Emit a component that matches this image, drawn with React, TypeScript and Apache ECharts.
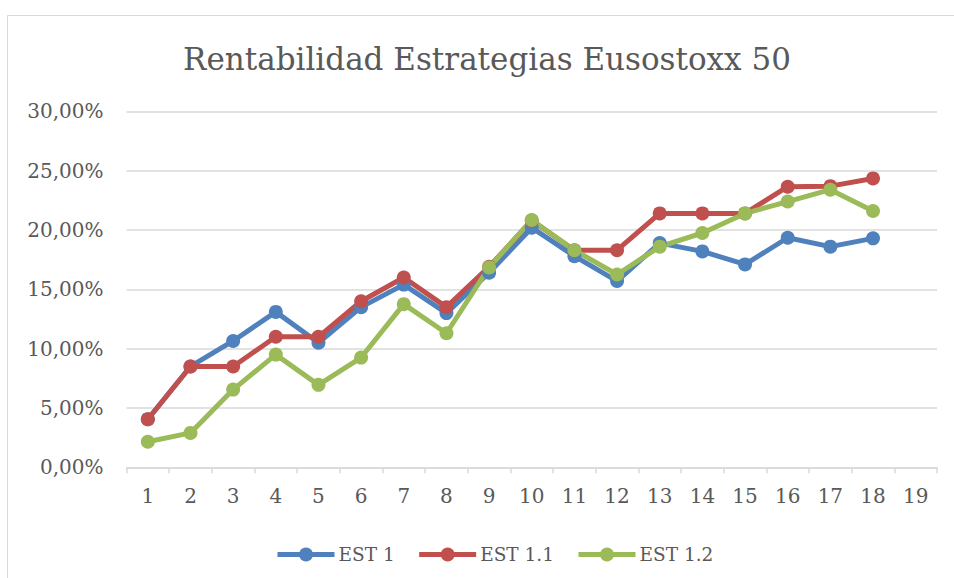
import React, { useEffect, useRef } from "react";
import * as echarts from "echarts";

const categories = ["1","2","3","4","5","6","7","8","9","10","11","12","13","14","15","16","17","18","19"];
const est1 = [4.05, 8.5, 10.65, 13.1, 10.5, 13.5, 15.4, 13.0, 16.4, 20.2, 17.8, 15.7, 18.9, 18.2, 17.1, 19.35, 18.6, 19.3];
const est11 = [4.05, 8.5, 8.5, 11.0, 11.0, 14.0, 16.0, 13.5, 16.9, 20.8, 18.3, 18.3, 21.4, 21.4, 21.4, 23.65, 23.7, 24.35];
const est12 = [2.15, 2.9, 6.55, 9.5, 6.95, 9.25, 13.75, 11.3, 16.85, 20.85, 18.3, 16.25, 18.6, 19.75, 21.4, 22.4, 23.4, 21.6];
const seriesNames = ["EST 1", "EST 1.1", "EST 1.2"];
const colors = ["#4F81BD", "#C0504D", "#9BBB59"];

const FONT = "'DejaVu Serif', 'Liberation Serif', serif";

export default function App() {
  const ref = useRef<HTMLDivElement>(null);
  useEffect(() => {
    if (!ref.current) return;
    const chart = echarts.init(ref.current, null, { renderer: "svg" });
    const data = [est1, est11, est12];
    chart.setOption({
      animation: false,
      backgroundColor: "#ffffff",
      title: {
        text: "Rentabilidad Estrategias Eusostoxx 50",
        left: 482,
        top: 38,
        textAlign: "center",
        textStyle: { fontFamily: FONT, fontSize: 31, fontWeight: "normal", color: "#595959" },
      },
      graphic: [
        {
          type: "rect",
          shape: { x: 7.5, y: 15.5, width: 1000, height: 700 },
          style: { fill: "none", stroke: "#d9d9d9", lineWidth: 1 },
          silent: true,
          z: -10,
        },
      ],
      legend: {
        top: 540,
        left: 270,
        itemWidth: 57,
        itemHeight: 17.5,
        itemGap: 22,
        lineStyle: { width: 5 },
        textStyle: { fontFamily: FONT, fontSize: 18.5, color: "#595959", padding: [0, 0, 0, -1] },
        data: seriesNames,
      },
      grid: { left: 126.5, right: 17, top: 111.4, bottom: 110.7, containLabel: false },
      xAxis: {
        type: "category",
        data: categories,
        boundaryGap: true,
        axisLine: { lineStyle: { color: "#d9d9d9", width: 1.5 } },
        axisTick: { show: true, length: 6, lineStyle: { color: "#d9d9d9", width: 1.5 } },
        axisLabel: { fontFamily: FONT, fontSize: 20, color: "#595959", margin: 19 },
      },
      yAxis: {
        type: "value",
        min: 0,
        max: 30,
        interval: 5,
        axisLine: { show: false },
        axisTick: { show: false },
        axisLabel: {
          fontFamily: FONT,
          fontSize: 20,
          color: "#595959",
          margin: 23,
          formatter: (v: number) => v.toFixed(2).replace(".", ",") + "%",
        },
        splitLine: { lineStyle: { color: "#d9d9d9", width: 1.5 } },
      },
      series: seriesNames.map((name, i) => ({
        name,
        type: "line",
        data: data[i],
        symbol: "circle",
        symbolSize: 14,
        color: colors[i],
        lineStyle: { width: 5, color: colors[i] },
        itemStyle: { color: colors[i] },
      })),
    });
    return () => chart.dispose();
  }, []);
  return <div ref={ref} style={{ position: "absolute", left: 0, top: 0, width: 954, height: 578 }} />;
}
